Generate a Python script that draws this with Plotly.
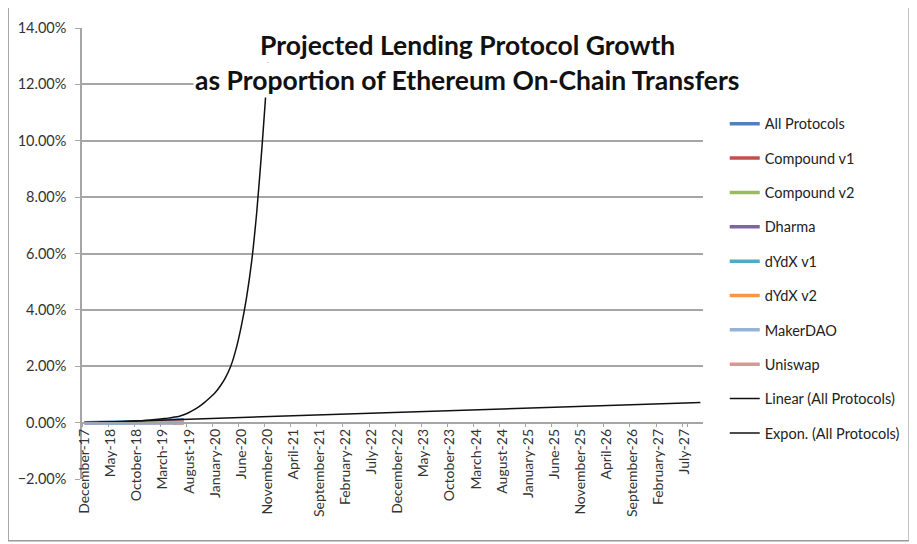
import pandas as pd
import plotly.graph_objects as go

# monthly categories, Dec 2017 .. Oct 2027
months = list(pd.date_range("2017-12-01", "2027-10-01", freq="MS").strftime("%B-%y"))
tick_labels = months[::5]

# observed share of on-chain transfers (%), Dec-17 .. Jul-19
all_protocols = [0.00, 0.00, 0.00, 0.00, 0.01, 0.01, 0.01, 0.01, 0.01, 0.01,
                 0.02, 0.03, 0.04, 0.05, 0.05, 0.06, 0.07, 0.08, 0.09, 0.10]
compound_v1 = [None] * 10 + [0.01, 0.01, 0.02, 0.02, 0.02, 0.03, 0.03, 0.02, 0.02, 0.02]
compound_v2 = [None] * 17 + [0.00, 0.01, 0.01]
dharma = [0.00, 0.00, 0.00, 0.00, 0.00, 0.00, 0.00, 0.00, 0.00, 0.00,
          0.00, 0.00, 0.00, 0.00, 0.00, 0.00, 0.00, 0.00, 0.00, 0.00]
dydx_v1 = [None] * 4 + [0.00, 0.00, 0.00, 0.00, 0.00, 0.00, 0.00, 0.00,
                        0.01, 0.01, 0.01, 0.01, 0.01, 0.01, 0.01, 0.01]
dydx_v2 = [None] * 18 + [0.00, 0.00]
makerdao = [0.00, 0.00, 0.00, 0.00, 0.00, 0.01, 0.01, 0.01, 0.01, 0.01,
            0.01, 0.01, 0.01, 0.01, 0.02, 0.02, 0.02, 0.02, 0.02, 0.02]
uniswap = [None] * 11 + [0.01, 0.02, 0.02, 0.03, 0.03, 0.03, 0.04, 0.04, 0.04]

# trend lines (%)
linear_trend = [0.00, 0.71]
linear_x = [months[0], months[-1]]
expon_trend = [0.01, 0.01, 0.01, 0.02, 0.02, 0.02, 0.03, 0.03, 0.04, 0.05,
               0.06, 0.07, 0.08, 0.10, 0.12, 0.14, 0.16, 0.19, 0.22, 0.28,
               0.36, 0.46, 0.58, 0.72, 0.88, 1.06, 1.30, 1.60, 2.00, 2.60,
               3.40, 4.40, 5.70, 7.50, 9.80, 12.4, 15.0]

series = [
    ("All Protocols", all_protocols, "#4F81BD"),
    ("Compound v1", compound_v1, "#C0504D"),
    ("Compound v2", compound_v2, "#9BBB59"),
    ("Dharma", dharma, "#8064A2"),
    ("dYdX v1", dydx_v1, "#4BACC6"),
    ("dYdX v2", dydx_v2, "#F79646"),
    ("MakerDAO", makerdao, "#95B3D7"),
    ("Uniswap", uniswap, "#D99694"),
]

fig = go.Figure()
for name, vals, col in series:
    fig.add_trace(go.Scatter(x=months[:len(vals)], y=vals, name=name, mode="lines",
                             line=dict(color=col, width=3.5), legendgroup=name))

fig.add_trace(go.Scatter(x=linear_x, y=linear_trend, name="Linear (All Protocols)",
                         mode="lines", line=dict(color="#111111", width=1.5),
                         legendgroup="lin"))
fig.add_trace(go.Scatter(x=months[:len(expon_trend)], y=expon_trend,
                         name="Expon. (All Protocols)", mode="lines",
                         line=dict(color="#111111", width=1.5, shape="spline", smoothing=0.6),
                         legendgroup="exp"))

gray = "#A6A6A6"
# page body adds an 8px offset, so the figure is 8px smaller and margins shifted
fig.update_layout(
    width=909, height=536,
    margin=dict(l=74, r=212, t=20, b=65),
    paper_bgcolor="white", plot_bgcolor="white",
    font=dict(family="Lato, 'Open Sans', sans-serif", color="#333333"),
    showlegend=True,
    legend=dict(x=1.035, y=0.823, xanchor="left", yanchor="top",
                font=dict(size=14.5, color="#222222"), tracegroupgap=12.5,
                bgcolor="rgba(0,0,0,0)"),
    xaxis=dict(type="category", categoryorder="array", categoryarray=months,
               range=[-0.5, len(months) - 0.5], automargin=False,
               tickvals=tick_labels, ticktext=tick_labels, tickangle=-90,
               tickfont=dict(size=14, color="#333333"),
               showgrid=False, showline=True, linecolor=gray, linewidth=1.5,
               ticks="outside", ticklen=4, tickcolor=gray, tickson="boundaries",
               anchor="free", position=0.125, zeroline=False),
    yaxis=dict(range=[-2, 14], dtick=2, tickformat=".2f", ticksuffix="%",
               automargin=False,
               tickfont=dict(size=14.5, color="#333333"),
               showgrid=True, gridcolor=gray, gridwidth=1.5,
               showline=True, linecolor=gray, linewidth=1.5,
               ticks="outside", ticklen=5, tickcolor=gray, ticklabelstandoff=6,
               zeroline=False),
)

# title lines sit on a white box over the gridlines
fig.add_annotation(text="<b>Projected Lending Protocol Growth</b>", xref="paper", yref="paper",
                   x=0.62, y=0.962, yanchor="middle", showarrow=False, bgcolor="white",
                   font=dict(size=26.5, color="#111111", family="Lato, sans-serif"))
fig.add_annotation(text="<b>as Proportion of Ethereum On-Chain Transfers</b>", xref="paper",
                   yref="paper", x=0.62, y=0.885, yanchor="middle", showarrow=False,
                   bgcolor="white",
                   font=dict(size=26.5, color="#111111", family="Lato, sans-serif"))

# chart frame
fig.add_shape(type="rect", xref="paper", yref="paper", x0=-0.119, x1=1.332, y0=-0.137, y1=1.051,
              line=dict(color="#9A9A9A", width=1.5), fillcolor="rgba(0,0,0,0)", layer="below")

fig.write_html("out.html")
